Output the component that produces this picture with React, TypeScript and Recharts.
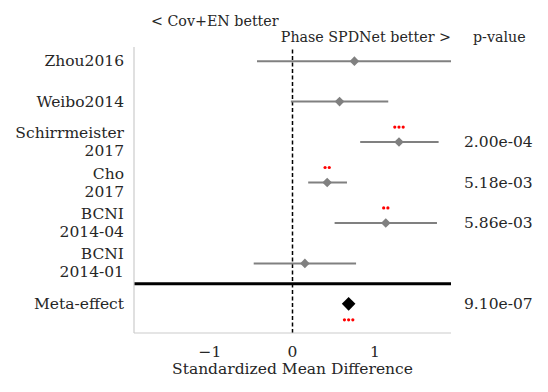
import React from 'react';
import {
  ScatterChart,
  Scatter,
  XAxis,
  YAxis,
  ErrorBar,
  ReferenceLine,
} from 'recharts';

// ---- data ----
const studies = ['Zhou2016', 'Weibo2014', 'Schirrmeister\n2017', 'Cho\n2017', 'BCNI\n2014-04', 'BCNI\n2014-01'];
const smd = [0.75, 0.57, 1.29, 0.42, 1.13, 0.15];
const ciLow = [-0.43, -0.02, 0.82, 0.19, 0.51, -0.47];
const ciHigh = [1.92, 1.16, 1.77, 0.66, 1.75, 0.77];
const pValues = ['', '', '2.00e-04', '5.18e-03', '5.86e-03', ''];
const starCounts = [0, 0, 3, 2, 2, 0];

const metaLabel = 'Meta-effect';
const metaSmd = 0.68;
const metaP = '9.10e-07';
const metaStars = 3;

const xTicks = [-1, 0, 1];

// ---- derived tables ----
const rowLabels = [...studies, metaLabel];
const rowP = [...pValues, metaP];
const metaRow = studies.length;
const separatorRow = metaRow - 0.5;

const studyData = studies.map((name, i) => ({
  name,
  x: smd[i],
  y: i,
  err: [smd[i] - ciLow[i], ciHigh[i] - smd[i]],
}));
const metaData = [{ name: metaLabel, x: metaSmd, y: metaRow }];
const starData = [
  ...studies.map((_, i) => ({ x: smd[i], y: i, n: starCounts[i], below: false })),
  { x: metaSmd, y: metaRow, n: metaStars, below: true },
].filter((d) => d.n > 0);

const FONT = '"DejaVu Serif", serif';
const TXT = '#262626';
const FS = 15.5;
const HFS = 14.25;
const GRAY = '#808080';

const Diamond = (props: any) => {
  const { cx, cy, fill, r } = props;
  return <polygon points={`${cx},${cy - r} ${cx + r},${cy} ${cx},${cy + r} ${cx - r},${cy}`} fill={fill} />;
};

const StarDots = (props: any) => {
  const { cx, cy, payload } = props;
  const n = payload.n;
  const yy = payload.below ? cy + 16 : cy - 15;
  const dots = [];
  for (let k = 0; k < n; k++) {
    const dx = (k - (n - 1) / 2) * 4.2;
    dots.push(<circle key={k} cx={cx + dx} cy={yy} r={1.6} fill="#ff0000" />);
  }
  return <g>{dots}</g>;
};

const LeftTick = (props: any) => {
  const { x, y, payload } = props;
  const label = rowLabels[payload.value];
  if (!label) return null;
  const lines = label.split('\n');
  const lh = 18;
  const start = y - ((lines.length - 1) * lh) / 2;
  return (
    <text textAnchor="end" fontFamily={FONT} fontSize={FS} fill={TXT}>
      {lines.map((l: string, i: number) => (
        <tspan key={i} x={x - 2} y={start + i * lh} dominantBaseline="central">
          {l}
        </tspan>
      ))}
    </text>
  );
};

const RightTick = (props: any) => {
  const { x, y, payload } = props;
  const p = rowP[payload.value];
  if (!p) return null;
  return (
    <text x={x + 5} y={y} textAnchor="start" dominantBaseline="central" fontFamily={FONT} fontSize={FS} fill={TXT}>
      {p}
    </text>
  );
};

const BottomTick = (props: any) => {
  const { x, y, payload } = props;
  const v = payload.value;
  const s = v < 0 ? `\u2212${Math.abs(v)}` : `${v}`;
  return (
    <text x={x} y={y + 11} textAnchor="middle" dominantBaseline="central" fontFamily={FONT} fontSize={FS} fill={TXT}>
      {s}
    </text>
  );
};

const rowTicks = rowLabels.map((_, i) => i);
const yDomain: [number, number] = [-0.35, 6.72];

export default function App() {
  return (
    <div style={{ position: 'absolute', left: 0, top: 0, width: 548, height: 392, background: '#fff' }}>
      <ScatterChart width={548} height={392} margin={{ top: 47, right: 0, bottom: 0, left: 0 }}>
        <XAxis
          type="number"
          dataKey="x"
          domain={[-1.92, 1.92]}
          ticks={xTicks}
          allowDataOverflow
          axisLine={{ stroke: '#cccccc', strokeWidth: 1.2 }}
          tickLine={false}
          tick={<BottomTick />}
          height={59}
          label={{
            value: 'Standardized Mean Difference',
            position: 'insideBottom',
            offset: 18,
            style: { fontFamily: FONT, fontSize: FS, fill: TXT },
          }}
        />
        <YAxis
          yAxisId="left"
          type="number"
          dataKey="y"
          domain={yDomain}
          reversed
          ticks={rowTicks}
          interval={0}
          width={134}
          axisLine={{ stroke: '#cccccc', strokeWidth: 1.2 }}
          tickLine={false}
          tick={<LeftTick />}
          allowDataOverflow
        />
        <YAxis
          yAxisId="right"
          orientation="right"
          type="number"
          dataKey="y"
          domain={yDomain}
          reversed
          ticks={rowTicks}
          interval={0}
          width={97}
          axisLine={false}
          tickLine={false}
          tick={<RightTick />}
          allowDataOverflow
        />
        <ReferenceLine yAxisId="left" x={0} stroke="#000" strokeWidth={1.5} strokeDasharray="4 2.5" />
        <ReferenceLine yAxisId="left" y={separatorRow} stroke="#000" strokeWidth={3} />
        <Scatter
          yAxisId="left"
          data={studyData}
          fill={GRAY}
          isAnimationActive={false}
          shape={(p: any) => <Diamond {...p} r={4.8} fill={GRAY} />}
        >
          <ErrorBar dataKey="err" direction="x" width={0} stroke={GRAY} strokeWidth={2} isAnimationActive={false} />
        </Scatter>
        <Scatter
          yAxisId="left"
          data={metaData}
          fill="#000"
          isAnimationActive={false}
          shape={(p: any) => <Diamond {...p} r={6.8} fill="#000" />}
        />
        <Scatter
          yAxisId="right"
          data={starData}
          fill="#ff0000"
          isAnimationActive={false}
          shape={(p: any) => <StarDots {...p} />}
        />
      </ScatterChart>
      <div style={{ position: 'absolute', left: 151, top: 11, fontFamily: FONT, fontSize: HFS, color: TXT, whiteSpace: 'nowrap', lineHeight: '20px' }}>
        &lt; Cov+EN better
      </div>
      <div style={{ position: 'absolute', right: 548 - 451, top: 27, fontFamily: FONT, fontSize: HFS, color: TXT, whiteSpace: 'nowrap', lineHeight: '20px' }}>
        Phase SPDNet better &gt;
      </div>
      <div style={{ position: 'absolute', left: 473, top: 27, fontFamily: FONT, fontSize: HFS, color: TXT, whiteSpace: 'nowrap', lineHeight: '20px' }}>
        p-value
      </div>
    </div>
  );
}
